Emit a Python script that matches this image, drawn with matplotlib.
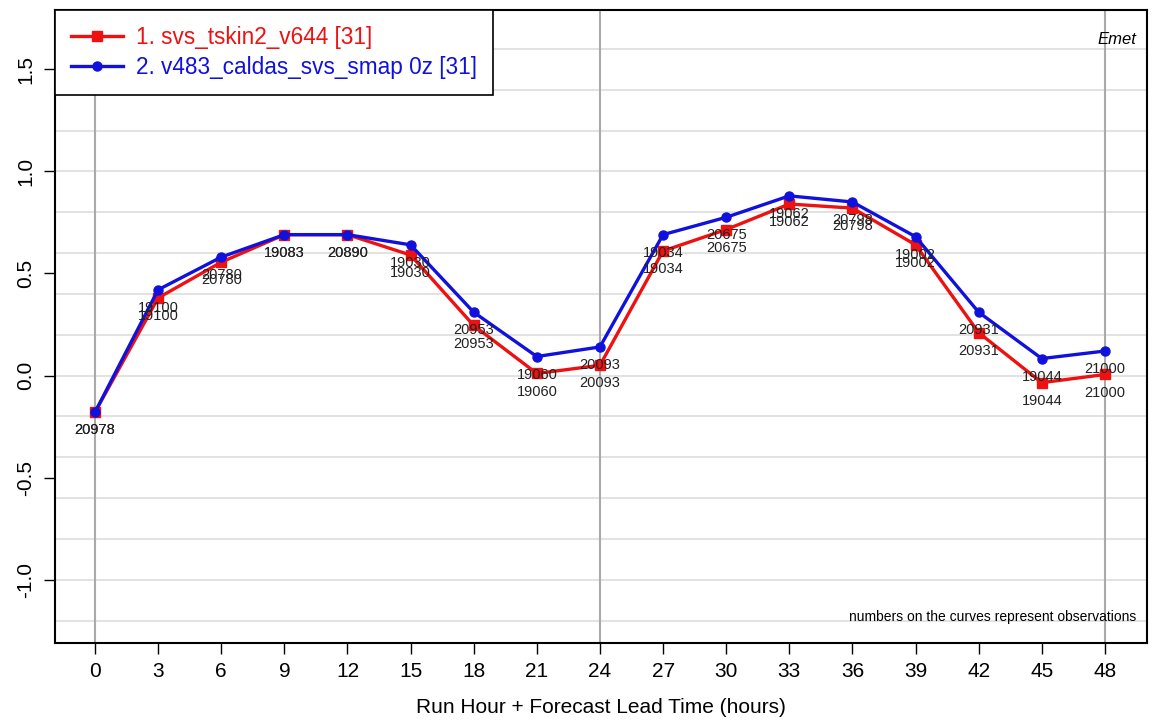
import matplotlib
matplotlib.use("Agg")
import matplotlib.pyplot as plt
import numpy as np

HOURS = [0, 3, 6, 9, 12, 15, 18, 21, 24, 27, 30, 33, 36, 39, 42, 45, 48]
RED = [-0.18, 0.38, 0.555, 0.69, 0.69, 0.59, 0.245, 0.01, 0.05, 0.61, 0.715,
       0.84, 0.82, 0.64, 0.21, -0.035, 0.005]
BLUE = [-0.18, 0.42, 0.58, 0.69, 0.69, 0.64, 0.31, 0.093, 0.14, 0.69, 0.775,
        0.88, 0.85, 0.68, 0.31, 0.083, 0.12]
OBS = ["20978", "19100", "20780", "19083", "20890", "19030", "20953", "19060",
       "20093", "19034", "20675", "19062", "20798", "19002", "20931", "19044",
       "21000"]
RED_LABEL = "1. svs_tskin2_v644 [31]"
BLUE_LABEL = "2. v483_caldas_svs_smap 0z [31]"

plt.rcParams.update({
    "font.family": ["Liberation Sans", "DejaVu Sans"],
    "font.size": 15,
})

fig = plt.figure(figsize=(11.53, 7.2), dpi=100)
ax = fig.add_axes([0.0477, 0.107, 0.9471, 0.879])

ax.plot(HOURS, RED, color="#ee1111", lw=2.4, marker="s", ms=6.5,
        label=RED_LABEL, zorder=3)
ax.plot(HOURS, BLUE, color="#1111dd", lw=2.4, marker="o", ms=6.5,
        label=BLUE_LABEL, zorder=4)

# observation counts under each point
for x, yr, yb, n in zip(HOURS, RED, BLUE, OBS):
    ax.annotate(n, (x, yr), xytext=(0, -8), textcoords="offset points",
                ha="center", va="top", fontsize=10.5, color="#222222", zorder=5)
    ax.annotate(n, (x, yb), xytext=(0, -8), textcoords="offset points",
                ha="center", va="top", fontsize=10.5, color="#222222", zorder=5)

ax.set_xlim(-1.9, 50.0)
ax.set_ylim(-1.31, 1.79)
ax.set_xticks(HOURS)
ax.set_yticks([-1.0, -0.5, 0.0, 0.5, 1.0, 1.5])
ax.set_yticklabels(["-1.0", "-0.5", "0.0", "0.5", "1.0", "1.5"],
                   rotation=90, va="center")
ax.tick_params(direction="out", length=8, width=1, pad=6)

for g in np.arange(-1.2, 1.7, 0.2):
    ax.axhline(g, color="#dddddd", lw=1.2, zorder=0)
for g in [0, 24, 48]:
    ax.axvline(g, color="#aaaaaa", lw=1.5, zorder=0)

for s in ax.spines.values():
    s.set_linewidth(1.5)

ax.set_xlabel("Run Hour + Forecast Lead Time (hours)", labelpad=12)

leg = ax.legend(loc="upper left", bbox_to_anchor=(0, 1), borderaxespad=0,
                fancybox=False, edgecolor="black", framealpha=1.0,
                fontsize=16.3, handlelength=2.3, handletextpad=0.6,
                borderpad=0.7, labelspacing=0.3)
leg.get_frame().set_linewidth(1.2)
for t, c in zip(leg.get_texts(), ["#ee1111", "#1111dd"]):
    t.set_color(c)

ax.text(0.99, 0.965, "Emet", transform=ax.transAxes, ha="right", va="top",
        fontsize=12, style="italic")
ax.text(0.99, 0.03, "numbers on the curves represent observations",
        transform=ax.transAxes, ha="right", va="bottom", fontsize=10)

fig.savefig("out.png", dpi=100)
